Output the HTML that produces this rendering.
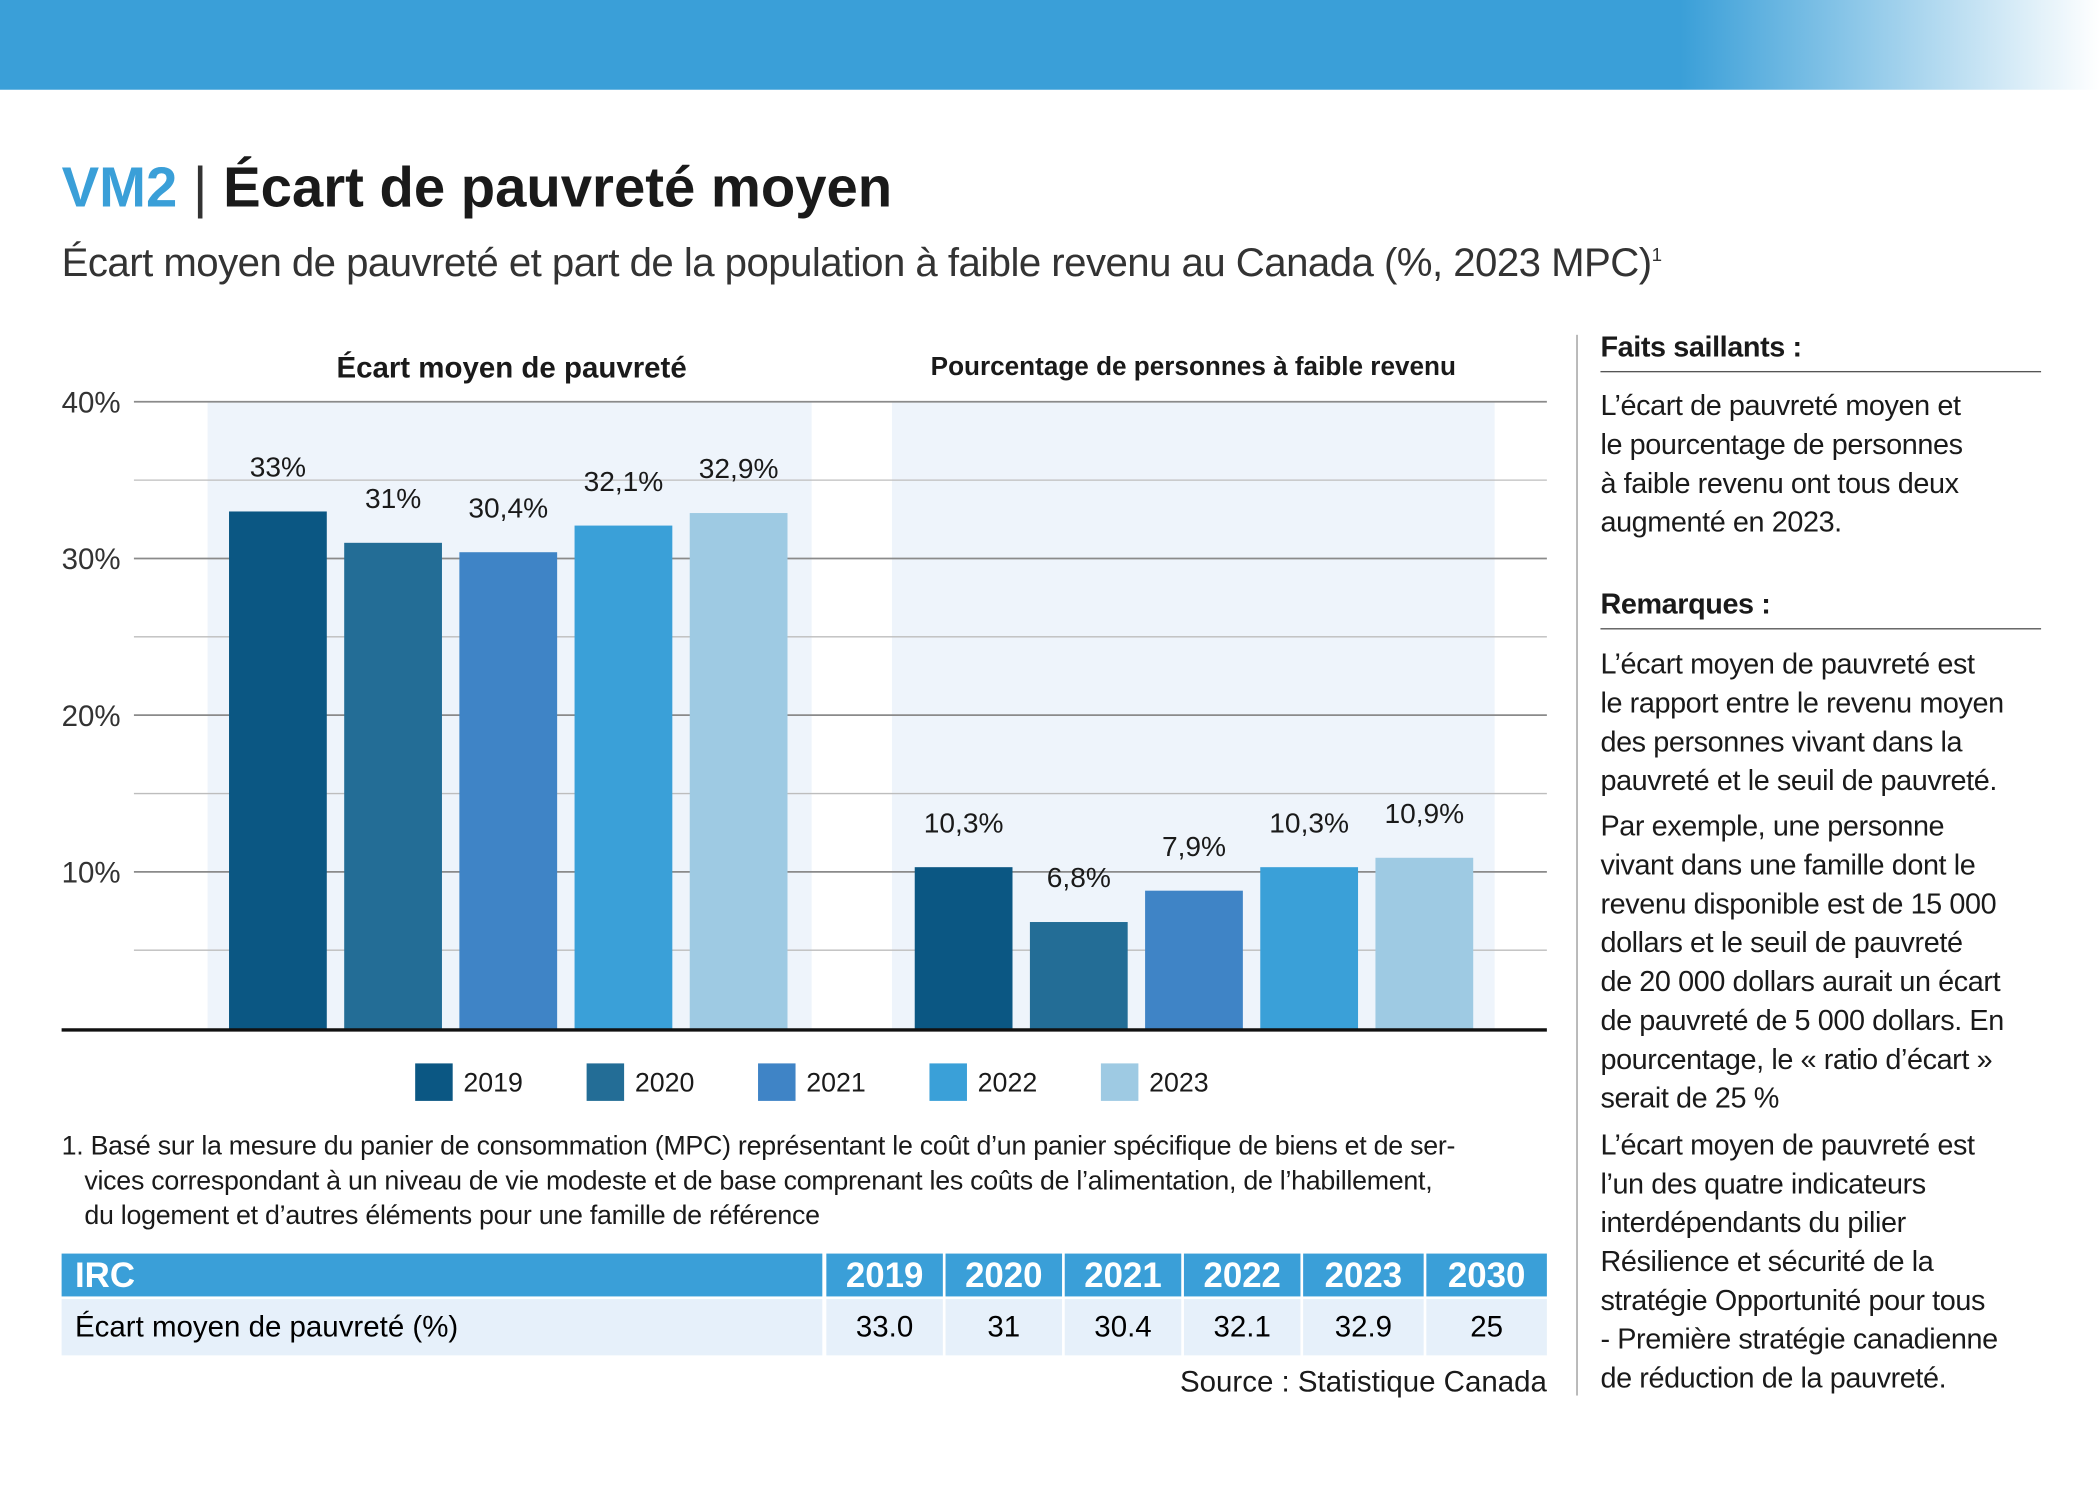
<!DOCTYPE html>
<html><head><meta charset="utf-8"><style>
html,body{margin:0;padding:0;background:#fff;}
body{width:2100px;height:1500px;overflow:hidden;position:relative;font-family:"Liberation Sans",sans-serif;}
#wrap{position:absolute;left:0;top:0;width:1568px;height:1120px;transform:scale(1.33929);transform-origin:0 0;}
.t{position:absolute;white-space:nowrap;color:#1a1a1a;}
.side{position:absolute;left:1195px;font-size:21.5px;line-height:29px;color:#1a1a1a;width:340px;letter-spacing:-0.3px;}
.cell{position:absolute;display:flex;align-items:center;justify-content:center;}
</style></head><body>
<div id="wrap">
<div style="position:absolute;left:0;top:0;width:1568px;height:67px;background:linear-gradient(90deg,#3a9fd8 0%,#3a9fd8 80%,#ffffff 100%);"></div>
<div class="t" style="left:46px;top:116px;font-size:42px;font-weight:bold;"><span style="color:#3a9fd8">VM2</span> <span style="font-weight:normal;color:#333">|</span> Écart de pauvreté moyen</div>
<div class="t" style="left:46px;top:180px;font-size:30px;color:#333;letter-spacing:-0.4px;">Écart moyen de pauvreté et part de la population à faible revenu au Canada (%, 2023 MPC)<sup style="font-size:14px">1</sup></div>

<svg id="chart" width="1568" height="830" style="position:absolute;left:0;top:0;" xmlns="http://www.w3.org/2000/svg"></svg>

<div class="t" style="left:46px;top:843px;font-size:20px;line-height:26px;color:#1a1a1a;white-space:normal;width:1115px;letter-spacing:-0.2px;">1. Basé sur la mesure du panier de consommation (MPC) représentant le coût d’un panier spécifique de biens et de ser-<br><span style="padding-left:17px">vices correspondant à un niveau de vie modeste et de base comprenant les coûts de l’alimentation, de l’habillement,</span><br><span style="padding-left:17px">du logement et d’autres éléments pour une famille de référence</span></div>

<div style="position:absolute;left:0;top:0;">
<div>
<div class="cell" style="left:46px;top:936px;width:568px;height:32px;background:#3a9fd8;color:#fff;font-weight:bold;font-size:26px;justify-content:flex-start;"><span style="padding-left:10px">IRC</span></div>
<div class="cell" style="left:617px;top:936px;width:87px;height:32px;background:#3a9fd8;color:#fff;font-weight:bold;font-size:26px;">2019</div>
<div class="cell" style="left:706px;top:936px;width:87px;height:32px;background:#3a9fd8;color:#fff;font-weight:bold;font-size:26px;">2020</div>
<div class="cell" style="left:795px;top:936px;width:87px;height:32px;background:#3a9fd8;color:#fff;font-weight:bold;font-size:26px;">2021</div>
<div class="cell" style="left:884px;top:936px;width:87px;height:32px;background:#3a9fd8;color:#fff;font-weight:bold;font-size:26px;">2022</div>
<div class="cell" style="left:973px;top:936px;width:90px;height:32px;background:#3a9fd8;color:#fff;font-weight:bold;font-size:26px;">2023</div>
<div class="cell" style="left:1065px;top:936px;width:90px;height:32px;background:#3a9fd8;color:#fff;font-weight:bold;font-size:26px;">2030</div>
</div>
<div>
<div class="cell" style="left:46px;top:970px;width:568px;height:42px;background:#e6f0fa;font-size:22px;justify-content:flex-start;"><span style="padding-left:10px">Écart moyen de pauvreté (%)</span></div>
<div class="cell" style="left:617px;top:970px;width:87px;height:42px;background:#e6f0fa;font-size:22px;">33.0</div>
<div class="cell" style="left:706px;top:970px;width:87px;height:42px;background:#e6f0fa;font-size:22px;">31</div>
<div class="cell" style="left:795px;top:970px;width:87px;height:42px;background:#e6f0fa;font-size:22px;">30.4</div>
<div class="cell" style="left:884px;top:970px;width:87px;height:42px;background:#e6f0fa;font-size:22px;">32.1</div>
<div class="cell" style="left:973px;top:970px;width:90px;height:42px;background:#e6f0fa;font-size:22px;">32.9</div>
<div class="cell" style="left:1065px;top:970px;width:90px;height:42px;background:#e6f0fa;font-size:22px;">25</div>
</div>
</div>
<div class="t" style="right:413px;top:1019px;font-size:22px;">Source : Statistique Canada</div>

<div style="position:absolute;left:1177px;top:250px;width:1px;height:792px;background:#999;"></div>
<div class="side" style="top:245px;font-weight:bold;border-bottom:1px solid #555;width:329px;padding-bottom:3px;">Faits saillants :</div>
<div class="side" style="top:289px;">L’écart de pauvreté moyen et<br>le pourcentage de personnes<br>à faible revenu ont tous deux<br>augmenté en 2023.</div>
<div class="side" style="top:437px;font-weight:bold;border-bottom:1px solid #555;width:329px;padding-bottom:3px;">Remarques :</div>
<div class="side" style="top:482px;">L’écart moyen de pauvreté est<br>le rapport entre le revenu moyen<br>des personnes vivant dans la<br>pauvreté et le seuil de pauvreté.</div>
<div class="side" style="top:603px;">Par exemple, une personne<br>vivant dans une famille dont le<br>revenu disponible est de 15 000<br>dollars et le seuil de pauvreté<br>de 20 000 dollars aurait un écart<br>de pauvreté de 5 000 dollars. En<br>pourcentage, le « ratio d’écart »<br>serait de 25 %</div>
<div class="side" style="top:841px;">L’écart moyen de pauvreté est<br>l’un des quatre indicateurs<br>interdépendants du pilier<br>Résilience et sécurité de la<br>stratégie Opportunité pour tous<br>- Première stratégie canadienne<br>de réduction de la pauvreté.</div>
</div>
<script>
const years = ["2019","2020","2021","2022","2023"];
const gapValues = [33, 31, 30.4, 32.1, 32.9];
const gapLabels = ["33%","31%","30,4%","32,1%","32,9%"];
const lowIncValues = [10.3, 6.8, 8.8, 10.3, 10.9];
const lowIncLabels = ["10,3%","6,8%","7,9%","10,3%","10,9%"];
const yTicks = [10, 20, 30, 40];
const yTickLabels = ["10%","20%","30%","40%"];
const colors = ["#0b5783","#236d96","#3f84c6","#3aa0d8","#9ecae3"];
const NS="http://www.w3.org/2000/svg";
const svg=document.getElementById('chart');
const y0=768, pxPer=11.7;
const Y=v=>y0-v*pxPer;
function mk(tag,attrs){const e=document.createElementNS(NS,tag);for(const k in attrs)e.setAttribute(k,attrs[k]);svg.appendChild(e);return e;}
let p=mk('rect',{x:155,y:Y(40),width:451,height:40*pxPer,fill:'#eef4fb'});


p=mk('rect',{x:666,y:Y(40),width:450,height:40*pxPer,fill:'#eef4fb'});


for(let v=5;v<=40;v+=5){
  const l=mk('line',{x1:100,x2:1155,y1:Y(v),y2:Y(v),stroke:v%10===0?'#8a8a8a':'#bdbdbd','stroke-width':v%10===0?1.3:1});
  
  
}
yTicks.forEach((v,i)=>{
  const t=mk('text',{x:46,y:Y(v)+8,'font-size':22,fill:'#333','font-family':'Liberation Sans, sans-serif'});
  t.textContent=yTickLabels[i];
  
  
});
function series(vals,labels,x0,name){
  vals.forEach((v,i)=>{
    const x=x0+i*86;
    const r=mk('rect',{x:x,y:Y(v),width:73,height:v*pxPer,fill:colors[i]});
    
    
    const t=mk('text',{x:x+36.5,y:Y(v)-26,'font-size':21,'text-anchor':'middle',fill:'#1a1a1a','font-family':'Liberation Sans, sans-serif'});
    t.textContent=labels[i];
    
    
  });
}
series(gapValues,gapLabels,171,'gap');
series(lowIncValues,lowIncLabels,683,'low-income');
const base=mk('line',{x1:46,x2:1155,y1:y0+1,y2:y0+1,stroke:'#111','stroke-width':2.5});


let tt=mk('text',{x:382,y:282,'font-size':22,'font-weight':'bold','text-anchor':'middle',fill:'#1a1a1a','font-family':'Liberation Sans, sans-serif'});
tt.textContent='Écart moyen de pauvreté';


tt=mk('text',{x:891,y:280,'font-size':19.5,'font-weight':'bold','text-anchor':'middle',fill:'#1a1a1a','font-family':'Liberation Sans, sans-serif'});
tt.textContent='Pourcentage de personnes à faible revenu';


years.forEach((y,i)=>{
  const x=310+i*128;
  const s=mk('rect',{x:x,y:794,width:28,height:28,fill:colors[i]});
  
  
  const t=mk('text',{x:x+36,y:815,'font-size':20,fill:'#1a1a1a','font-family':'Liberation Sans, sans-serif'});
  t.textContent=y;
  
  
});
</script>
</body></html>
